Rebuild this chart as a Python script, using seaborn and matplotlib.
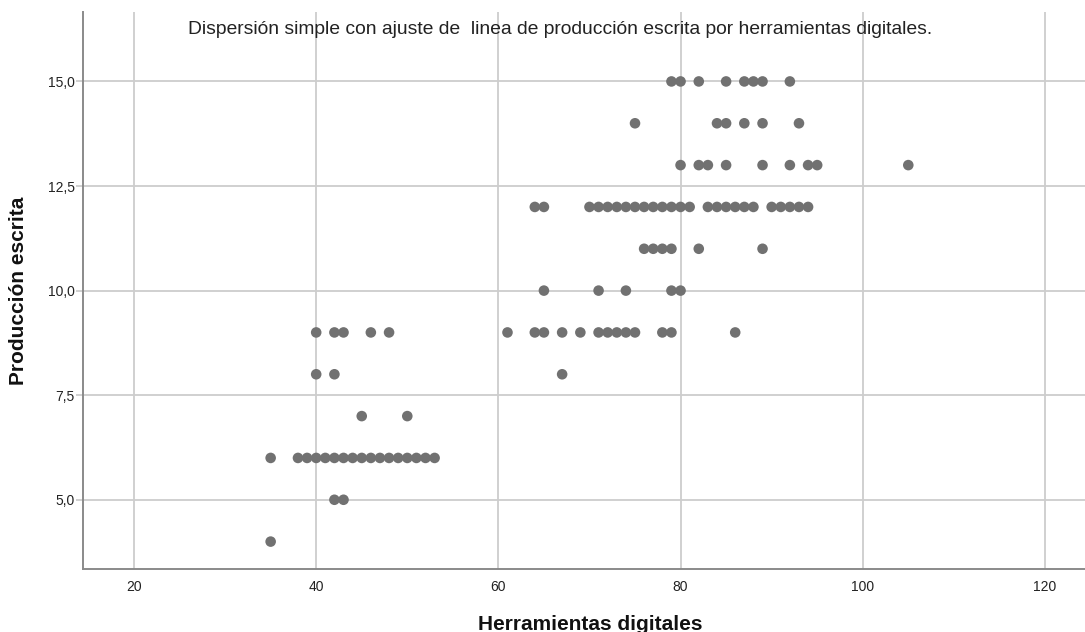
import numpy as np
import pandas as pd
import matplotlib
matplotlib.use("Agg")
import matplotlib.pyplot as plt
import seaborn as sns

# ---- data: Herramientas digitales values observed at each Producción escrita level ----
levels = [4, 5, 6, 7, 8, 9, 10, 11, 12, 13, 14, 15]
herr_at_4 = [35]
herr_at_5 = [42, 43]
herr_at_6 = [35, 38, 39, 40, 41, 42, 43, 44, 45, 46, 47, 48, 49, 50, 51, 52, 53]
herr_at_7 = [45, 50]
herr_at_8 = [40, 42, 67]
herr_at_9 = [40, 42, 43, 46, 48, 61, 64, 65, 67, 69, 71, 72, 73, 74, 75, 78, 79, 86]
herr_at_10 = [65, 71, 74, 79, 80]
herr_at_11 = [76, 77, 78, 79, 82, 89]
herr_at_12 = [64, 65, 70, 71, 72, 73, 74, 75, 76, 77, 78, 79, 80, 81,
              83, 84, 85, 86, 87, 88, 90, 91, 92, 93, 94]
herr_at_13 = [80, 82, 83, 85, 89, 92, 94, 95, 105]
herr_at_14 = [75, 84, 85, 87, 89, 93]
herr_at_15 = [79, 80, 82, 85, 87, 88, 89, 92]

x_ticks = [20, 40, 60, 80, 100, 120]
x_tick_labels = ["20", "40", "60", "80", "100", "120"]
y_ticks = [5.0, 7.5, 10.0, 12.5, 15.0]
y_tick_labels = ["5,0", "7,5", "10,0", "12,5", "15,0"]

title = "Dispersión simple con ajuste de  linea de producción escrita por herramientas digitales."
x_label = "Herramientas digitales"
y_label = "Producción escrita"

groups = [herr_at_4, herr_at_5, herr_at_6, herr_at_7, herr_at_8, herr_at_9,
          herr_at_10, herr_at_11, herr_at_12, herr_at_13, herr_at_14, herr_at_15]
rows = []
for lvl, xs in zip(levels, groups):
    for xv in xs:
        rows.append((xv, lvl))
df = pd.DataFrame(rows, columns=["herr", "prod"])

# ---- styling ----
sns.set_theme(style="white")
plt.rcParams["font.family"] = ["Liberation Sans", "DejaVu Sans"]

W, H = 1085, 632
fig = plt.figure(figsize=(W / 100, H / 100), dpi=100)
left_px, right_px, top_px, bottom_px = 83, 1085, 12, 569
ax = fig.add_axes([left_px / W, 1 - bottom_px / H,
                   (right_px - left_px) / W, (bottom_px - top_px) / H])

sns.scatterplot(data=df, x="herr", y="prod", ax=ax, color="#717171",
                s=58, edgecolor="none", linewidth=0, zorder=3)

ax.set_xlim(14.4, 124.4)
ax.set_ylim(3.345, 16.66)
ax.set_xticks(x_ticks)
ax.set_xticklabels(x_tick_labels)
ax.set_yticks(y_ticks)
ax.set_yticklabels(y_tick_labels)

ax.set_axisbelow(True)
ax.grid(True, color="#cdcdcd", linewidth=1.3)
for side in ["top", "right"]:
    ax.spines[side].set_visible(False)
for side in ["left", "bottom"]:
    ax.spines[side].set_color("#8a8a8a")
    ax.spines[side].set_linewidth(1.4)

ax.tick_params(axis="x", length=0, pad=8, labelsize=10, labelcolor="#222222")
ax.tick_params(axis="y", length=5, width=1.3, color="#cdcdcd", pad=1,
               labelsize=10, labelcolor="#222222")
ax.tick_params(axis="both", direction="out")
ax.yaxis.set_tick_params(left=True)

ax.set_xlabel(x_label, fontsize=15, fontweight="bold", color="#111111")
ax.set_ylabel(y_label, fontsize=15, fontweight="bold", color="#111111")
ax.xaxis.set_label_coords((590 - left_px) / (right_px - left_px),
                          -(615 - bottom_px) / (bottom_px - top_px))
ax.yaxis.set_label_coords(-(left_px - 28) / (right_px - left_px), 0.5)

ax.text((560 - left_px) / (right_px - left_px), (bottom_px - 30) / (bottom_px - top_px),
        title, transform=ax.transAxes, ha="center", va="center",
        fontsize=13.9, color="#222222")

fig.savefig("out.png", dpi=100)
